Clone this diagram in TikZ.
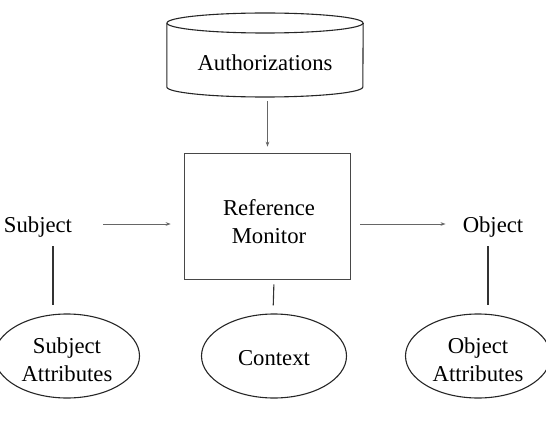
\documentclass[tikz,border=0pt]{standalone}
\usepackage{fontspec}
\setmainfont{Liberation Serif}
\usetikzlibrary{shapes.geometric,arrows.meta}
\begin{document}
\begin{tikzpicture}[x=1pt,y=-1pt,
  every node/.style={font=\fontsize{22.7}{28}\selectfont, inner sep=2pt},
  lbl/.style={align=center},
  monbox/.style={draw=black!72, line width=1.6pt, minimum width=166pt, minimum height=126pt},
  attr/.style={ellipse, draw=black!85, line width=1.1pt, minimum width=145pt, minimum height=84pt, inner sep=0pt},
  flow/.style={draw=black!60, line width=0.9pt, -{Stealth[length=5pt,width=3.6pt]}},
  link/.style={draw=black!80, line width=1.1pt},
  cyl/.style={draw=black!85, line width=1.1pt}]
\path[use as bounding box] (0,0) rectangle (546,425);

% Authorizations cylinder
\node[minimum width=196pt, minimum height=84pt, inner sep=0pt] (auth) at (265,55) {};
\draw[cyl] (265,23) ellipse [x radius=98pt, y radius=10pt];
\draw[cyl] (auth.west |- 0,23) -- (auth.west |- 0,87)
  arc[start angle=180, end angle=360, x radius=98pt, y radius=10pt]
  -- (auth.east |- 0,23);
\node[lbl] (authtext) at (265,63) {Authorizations};

% Reference monitor
\node[monbox] (mon) at (267.5,216.5) {};
\node[lbl] (montext) at (269,222) {Reference\\Monitor};

% Subject / Object
\node (subj) at (38,227) {Subject};
\node (obj) at (493,227) {Object};

% Attribute ellipses
\node[attr] (sa) at (67,356) {};
\node[lbl] (satext) at (67,360) {Subject\\Attributes};
\node[attr] (ctx) at (274,356) {};
\node[lbl] (ctxtext) at (274,358) {Context};
\node[attr] (oa) at (478,356) {};
\node[lbl] (oatext) at (478,360) {Object\\Attributes};

% Arrows
\draw[flow] ([yshift=-4pt]auth.south -| mon.north) -- ([yshift=6pt]mon.north);
\draw[flow, shorten <=29pt, shorten >=13pt] ([yshift=3pt]subj.east) -- ([yshift=3pt]subj.east -| mon.west);
\draw[flow, shorten <=9pt, shorten >=15pt] ([yshift=3pt]obj.west -| mon.east) -- ([yshift=3pt]obj.west);

% Links
\draw[link, shorten <=7pt, shorten >=8pt] ([xshift=15pt]subj.south) -- ([xshift=15pt]subj.south |- sa.north);
\draw[link, shorten <=4pt, shorten >=8pt] (ctx.north |- mon.south) -- ([xshift=-1pt]ctx.north);
\draw[link, shorten <=7pt, shorten >=8pt] ([xshift=-5pt]obj.south) -- ([xshift=-5pt]obj.south |- oa.north);
\end{tikzpicture}
\end{document}
